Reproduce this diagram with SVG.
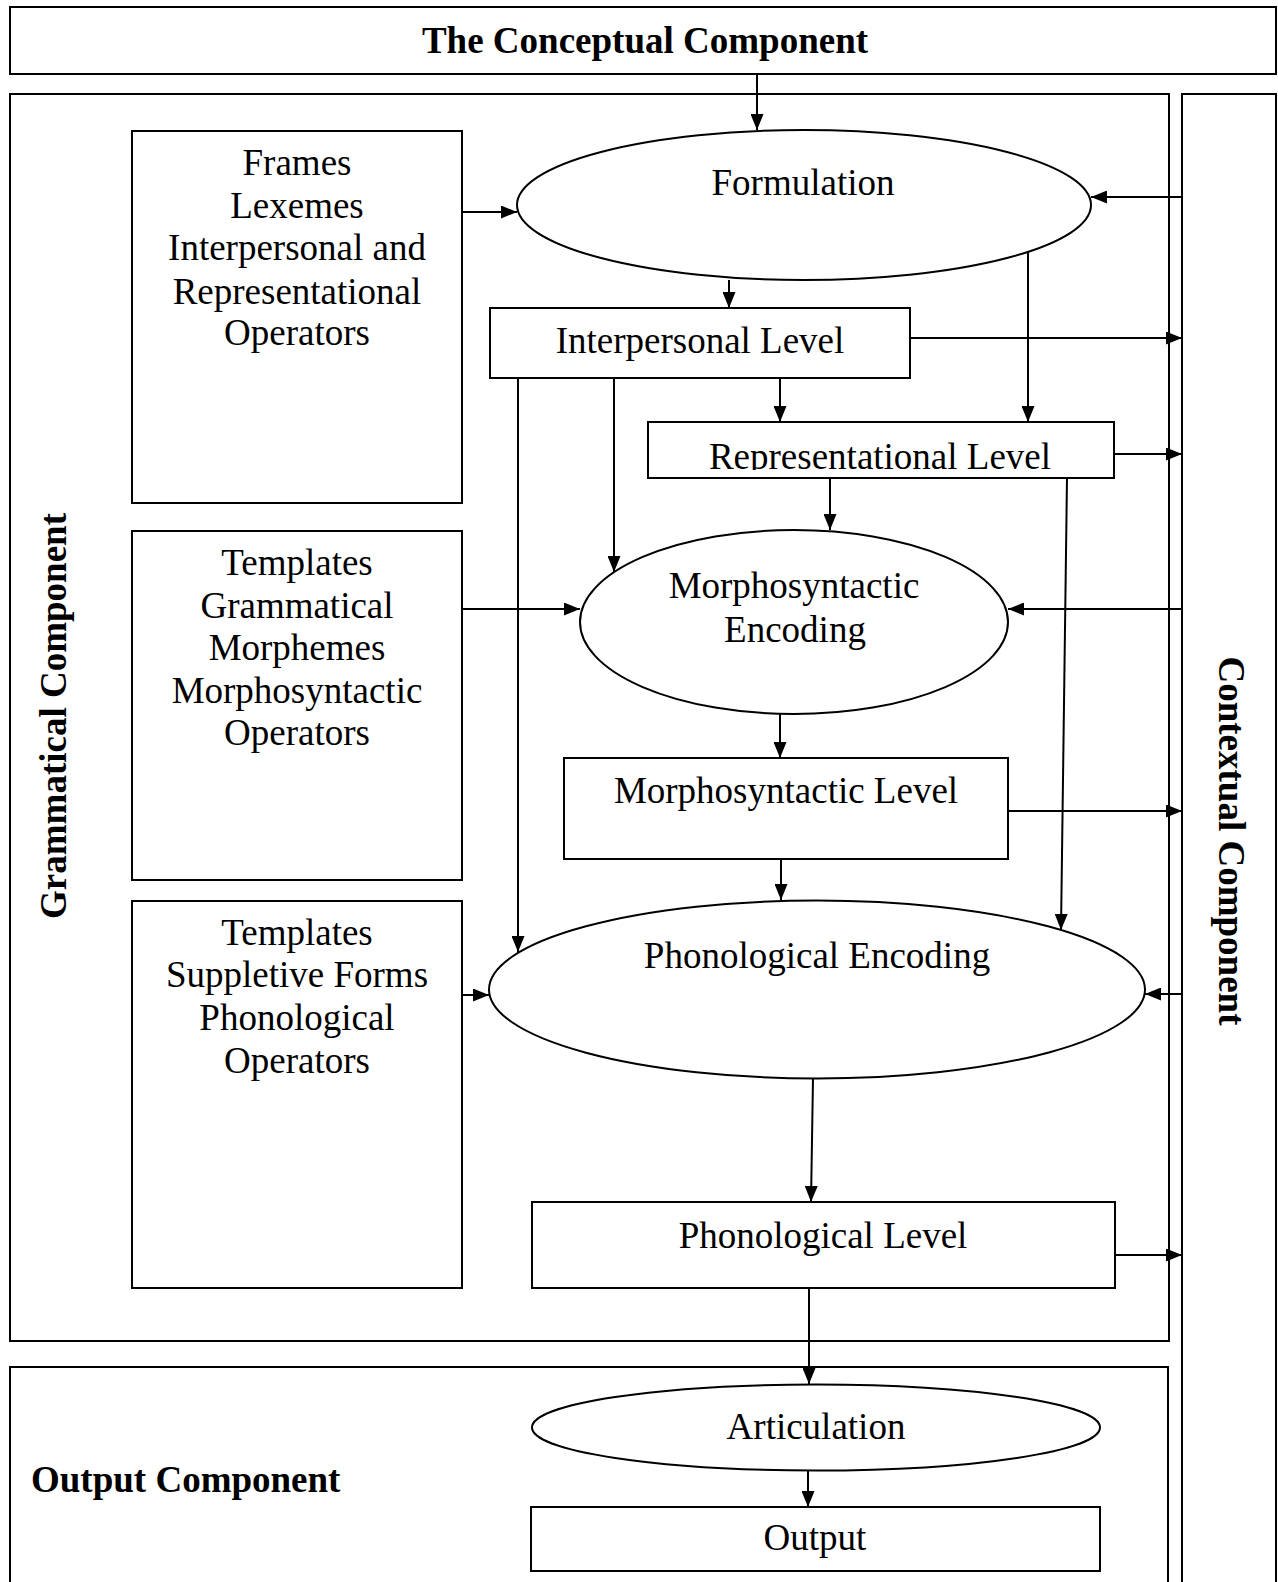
<svg xmlns="http://www.w3.org/2000/svg" width="1278" height="1582" viewBox="0 0 1278 1582">
<style>
.box{fill:#fff;stroke:#000;stroke-width:2}
.frame{fill:none;stroke:#000;stroke-width:2}
.t{font-family:"Liberation Serif","Times New Roman",serif;font-size:37px;fill:#000;text-anchor:middle}
.b{font-weight:bold}
.c{fill:none;stroke:#000;stroke-width:2}
</style>
<defs>
<marker id="ah" markerWidth="16" markerHeight="13" refX="16" refY="6.5" orient="auto" markerUnits="userSpaceOnUse">
<path d="M0,0 L16,6.5 L0,13 z" fill="#000"/>
</marker>
<clipPath id="repClip"><rect x="648" y="422" width="466" height="48"/></clipPath>
</defs>
<rect width="1278" height="1582" fill="#fff"/>

<g id="conceptual">
<rect class="box" x="10" y="7" width="1266" height="67"/>
<text class="t b" x="645" y="53">The Conceptual Component</text>
</g>
<g id="grammatical">
<rect class="frame" x="10" y="94" width="1159" height="1247"/>
<text class="t b" transform="translate(66,716) rotate(-90)">Grammatical Component</text>
</g>
<g id="contextual">
<rect class="frame" x="1182" y="94" width="94" height="1510"/>
<text class="t b" transform="translate(1219,841) rotate(90)">Contextual Component</text>
</g>
<g id="output-component">
<rect class="frame" x="10" y="1367" width="1158" height="240"/>
<text class="t b" x="31" y="1492" style="text-anchor:start">Output Component</text>
</g>

<g id="frames">
<rect class="box" x="132" y="131" width="330" height="372"/>
<text class="t" x="297" y="175">Frames</text>
<text class="t" x="297" y="218">Lexemes</text>
<text class="t" x="297" y="260">Interpersonal and</text>
<text class="t" x="297" y="304">Representational</text>
<text class="t" x="297" y="345">Operators</text>
</g>
<g id="templates-morpho">
<rect class="box" x="132" y="531" width="330" height="349"/>
<text class="t" x="297" y="575">Templates</text>
<text class="t" x="297" y="618">Grammatical</text>
<text class="t" x="297" y="660">Morphemes</text>
<text class="t" x="297" y="703">Morphosyntactic</text>
<text class="t" x="297" y="745">Operators</text>
</g>
<g id="templates-phono">
<rect class="box" x="132" y="901" width="330" height="387"/>
<text class="t" x="297" y="945">Templates</text>
<text class="t" x="297" y="987">Suppletive Forms</text>
<text class="t" x="297" y="1030">Phonological</text>
<text class="t" x="297" y="1073">Operators</text>
</g>
<g id="formulation">
<ellipse class="box" cx="804" cy="205" rx="287" ry="75"/>
<text class="t" x="803" y="195">Formulation</text>
</g>
<g id="interpersonal-level">
<rect class="box" x="490" y="308" width="420" height="70"/>
<text class="t" x="700" y="353">Interpersonal Level</text>
</g>
<g id="representational-level">
<rect class="box" x="648" y="422" width="466" height="56"/>
<text class="t" x="880" y="469" clip-path="url(#repClip)">Representational Level</text>
</g>
<g id="morphosyntactic-encoding">
<ellipse class="box" cx="794" cy="622" rx="214" ry="92"/>
<text class="t" x="794" y="598">Morphosyntactic</text>
<text class="t" x="795" y="642">Encoding</text>
</g>
<g id="morphosyntactic-level">
<rect class="box" x="564" y="758" width="444" height="101"/>
<text class="t" x="786" y="803">Morphosyntactic Level</text>
</g>
<g id="phonological-encoding">
<ellipse class="box" cx="817" cy="989.5" rx="328" ry="89"/>
<text class="t" x="817" y="968">Phonological Encoding</text>
</g>
<g id="phonological-level">
<rect class="box" x="532" y="1202" width="583" height="86"/>
<text class="t" x="823" y="1248">Phonological Level</text>
</g>
<g id="articulation">
<ellipse class="box" cx="816" cy="1427.5" rx="284" ry="43"/>
<text class="t" x="816" y="1439">Articulation</text>
</g>
<g id="output">
<rect class="box" x="531" y="1507" width="569" height="64"/>
<text class="t" x="815" y="1550">Output</text>
</g>

<g id="connectors">
<path class="c" marker-end="url(#ah)" d="M757,74 L757,130"/>
<path class="c" marker-end="url(#ah)" d="M462,212 L517,212"/>
<path class="c" marker-end="url(#ah)" d="M1182,197 L1091,197"/>
<path class="c" marker-end="url(#ah)" d="M729,280 L729,308"/>
<path class="c" marker-end="url(#ah)" d="M1028,252 L1028,422"/>
<path class="c" marker-end="url(#ah)" d="M910,338 L1182,338"/>
<path class="c" marker-end="url(#ah)" d="M780,378 L780,422"/>
<path class="c" marker-end="url(#ah)" d="M614,378 L614,572"/>
<path class="c" marker-end="url(#ah)" d="M518,378 L518,952"/>
<path class="c" marker-end="url(#ah)" d="M1114,454 L1182,454"/>
<path class="c" marker-end="url(#ah)" d="M830,478 L830,530"/>
<path class="c" marker-end="url(#ah)" d="M1067,478 L1061,930"/>
<path class="c" marker-end="url(#ah)" d="M462,609 L580,609"/>
<path class="c" marker-end="url(#ah)" d="M1182,609 L1008,609"/>
<path class="c" marker-end="url(#ah)" d="M780,714 L780,758"/>
<path class="c" marker-end="url(#ah)" d="M1008,811 L1182,811"/>
<path class="c" marker-end="url(#ah)" d="M781,859 L781,900"/>
<path class="c" marker-end="url(#ah)" d="M462,995 L489,995"/>
<path class="c" marker-end="url(#ah)" d="M1182,994 L1145,994"/>
<path class="c" marker-end="url(#ah)" d="M813,1078 L811,1202"/>
<path class="c" marker-end="url(#ah)" d="M1115,1255 L1182,1255"/>
<path class="c" marker-end="url(#ah)" d="M809,1288 L809,1384"/>
<path class="c" marker-end="url(#ah)" d="M808,1471 L808,1507"/>
</g>
</svg>
